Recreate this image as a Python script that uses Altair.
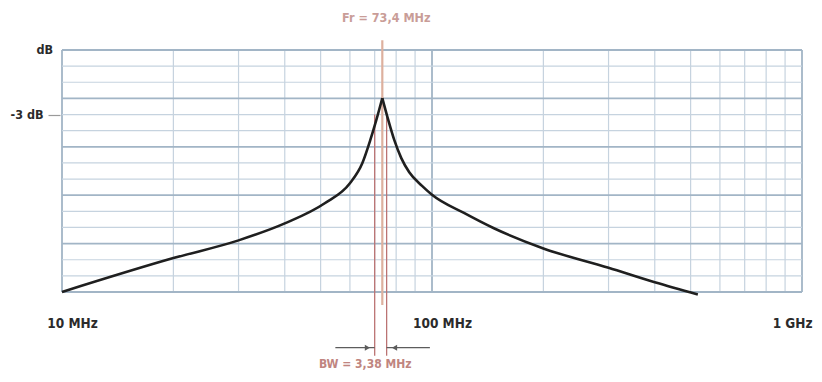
import altair as alt
import pandas as pd

# ---------------- data ----------------
# frequency grid (MHz), log axis 10 MHz .. 1 GHz
grid_freqs = [10, 20, 30, 40, 50, 60, 70, 80, 90, 100, 200, 300, 400, 500, 600, 700, 800, 900, 1000]
decade_freqs = [10, 100, 1000]
# horizontal grid levels (1 division each)
grid_levels = [0, -1, -2, -3, -4, -5, -6, -7, -8, -9, -10, -11, -12, -13, -14, -15]
major_levels = [0, -3, -6, -9, -12, -15]

# resonance curve, left flank and right flank (MHz, level in divisions)
left_f = [10, 20, 30, 40, 51.3, 60, 64.8, 68.1, 70.7, 73.4]
left_l = [-15.0, -12.9, -11.8, -10.75, -9.5, -8.26, -7.02, -5.59, -4.35, -2.98]
right_f = [73.4, 76.2, 79.1, 82.6, 86.8, 94.0, 100, 122, 147, 200, 300, 400, 523]
right_l = [-2.98, -4.35, -5.59, -6.70, -7.58, -8.42, -8.97, -10.1, -11.05, -12.3, -13.5, -14.4, -15.15]

fc = 73.4
bw_edges = [70.0, 75.4]
x_tick_values = [10, 100, 1000]
x_tick_labels = ["10 MHz", "100 MHz", "1 GHz"]
y_tick_values = [-4]
y_tick_labels = ["-3 dB"]

fc_text = "Fr = 73,4 MHz"
bw_text = "BW = 3,38 MHz"

# ---------------- styling ----------------
FONT = "Liberation Sans Narrow, DejaVu Sans Condensed, Arial Narrow, sans-serif"
MINOR = "#c6d3df"
MAJOR = "#a2b5c6"
W, H = 740, 242

xs = alt.Scale(type="log", domain=[10, 1000], nice=False)
ys = alt.Scale(domain=[-15, 0], nice=False, zero=False)

label_expr = " : ".join(
    f"datum.value == {v} ? '{t}'" for v, t in zip(x_tick_values, x_tick_labels)) + " : ''"
ylabel_expr = " : ".join(
    f"datum.value == {v} ? '{t}'" for v, t in zip(y_tick_values, y_tick_labels)) + " : ''"

# the same axis definitions are given to every layer so that they merge cleanly
X_AX = alt.Axis(
    values=x_tick_values, labelExpr=label_expr, title=None, grid=False, domain=False,
    ticks=False, labelPadding=24, labelFont=FONT, labelFontSize=13.5, labelFontWeight="bold",
    labelColor="#2b2b2b", labelOffset=10,
    labelAlign={"condition": {"test": f"datum.value >= {x_tick_values[-1]}", "value": "right"},
                "value": "center"})
Y_AX = alt.Axis(
    values=y_tick_values, labelExpr=ylabel_expr, title=None, grid=False, domain=False,
    ticks=True, tickSize=12, tickColor="#9a9a9a", tickWidth=1.2, offset=2, labelPadding=5,
    labelFont=FONT, labelFontSize=12.5, labelFontWeight="bold", labelColor="#2b2b2b")


def X(field):
    return alt.X(field, scale=xs, axis=X_AX)


def Y(field):
    return alt.Y(field, scale=ys, axis=Y_AX)


# ---------------- tables ----------------
vgrid = pd.DataFrame({
    "f": grid_freqs,
    "kind": ["major" if f in decade_freqs else "minor" for f in grid_freqs],
})
hgrid = pd.DataFrame({
    "lev": grid_levels,
    "kind": ["major" if l in major_levels else "minor" for l in grid_levels],
})
curve = pd.DataFrame({
    "f": left_f + right_f,
    "lev": left_l + right_l,
    "side": ["left"] * len(left_f) + ["right"] * len(right_f),
})
fc_df = pd.DataFrame({"f": [fc], "top": [0.6], "bottom": [-15.8]})
bw_df = pd.DataFrame({"f": bw_edges, "top": [-4.0, -4.0], "bottom": [-18.95, -18.95]})
arrows = pd.DataFrame({"f1": [54.8, bw_edges[1]], "f2": [bw_edges[0], 98.7], "lev": [-18.45, -18.45]})
heads = pd.DataFrame({"f": [66.9, 79.2], "lev": [-18.45, -18.45],
                      "shape": ["triangle-right", "triangle-left"]})
fc_lab = pd.DataFrame({"f": [fc], "lev": [2.0], "t": [fc_text]})
bw_lab = pd.DataFrame({"f": [66.0], "lev": [-19.45], "t": [bw_text]})
db_lab = pd.DataFrame({"f": [10], "lev": [0.0], "t": ["dB"]})

kind_color = alt.Color("kind:N", scale=alt.Scale(domain=["minor", "major"], range=[MINOR, MAJOR]), legend=None)
kind_width = alt.StrokeWidth("kind:N", scale=alt.Scale(domain=["minor", "major"], range=[1.2, 1.8]), legend=None)

vrules = alt.Chart(vgrid).mark_rule().encode(x=X("f:Q"), color=kind_color, strokeWidth=kind_width)
hrules = alt.Chart(hgrid).mark_rule().encode(y=Y("lev:Q"), color=kind_color, strokeWidth=kind_width)

fc_rule = alt.Chart(fc_df).mark_rule(color="#ddb09e", strokeWidth=2.2).encode(
    x=X("f:Q"), y=Y("top:Q"), y2="bottom:Q")
bw_rules = alt.Chart(bw_df).mark_rule(color="#bb7373", strokeWidth=1.3).encode(
    x=X("f:Q"), y=Y("top:Q"), y2="bottom:Q")

line = alt.Chart(curve).mark_line(interpolate="monotone", color="#1f1f1f", strokeWidth=2.6).encode(
    x=X("f:Q"), y=Y("lev:Q"), detail="side:N")

arrow_lines = alt.Chart(arrows).mark_rule(color="#5c5c5c", strokeWidth=1.3).encode(
    x=X("f1:Q"), x2="f2:Q", y=Y("lev:Q"))
arrow_heads = alt.Chart(heads).mark_point(filled=True, opacity=1, color="#5c5c5c", size=36).encode(
    x=X("f:Q"), y=Y("lev:Q"), shape=alt.Shape("shape:N", scale=None))

fc_t = alt.Chart(fc_lab).mark_text(font=FONT, fontSize=12.5, fontWeight="bold", color="#c99d98",
                                   baseline="middle", align="center", dx=4).encode(
    x=X("f:Q"), y=Y("lev:Q"), text="t:N")
bw_t = alt.Chart(bw_lab).mark_text(font=FONT, fontSize=12, fontWeight="bold", color="#c08580",
                                   baseline="middle", align="center").encode(
    x=X("f:Q"), y=Y("lev:Q"), text="t:N")
db_t = alt.Chart(db_lab).mark_text(font=FONT, fontSize=12.5, fontWeight="bold", color="#2b2b2b",
                                   baseline="middle", align="right", dx=-9).encode(
    x=X("f:Q"), y=Y("lev:Q"), text="t:N")

chart = alt.layer(
    vrules, hrules, fc_rule, bw_rules, line, arrow_lines, arrow_heads, fc_t, bw_t, db_t
).resolve_scale(color="independent", strokeWidth="independent").properties(
    width=W, height=H,
    autosize=alt.AutoSizeParams(type="none"),
    padding={"left": 54, "top": 42, "right": 12, "bottom": 82},
    background="white",
).configure_view(stroke=None)

chart.save("out.html", embed_options={"renderer": "svg", "actions": False})
